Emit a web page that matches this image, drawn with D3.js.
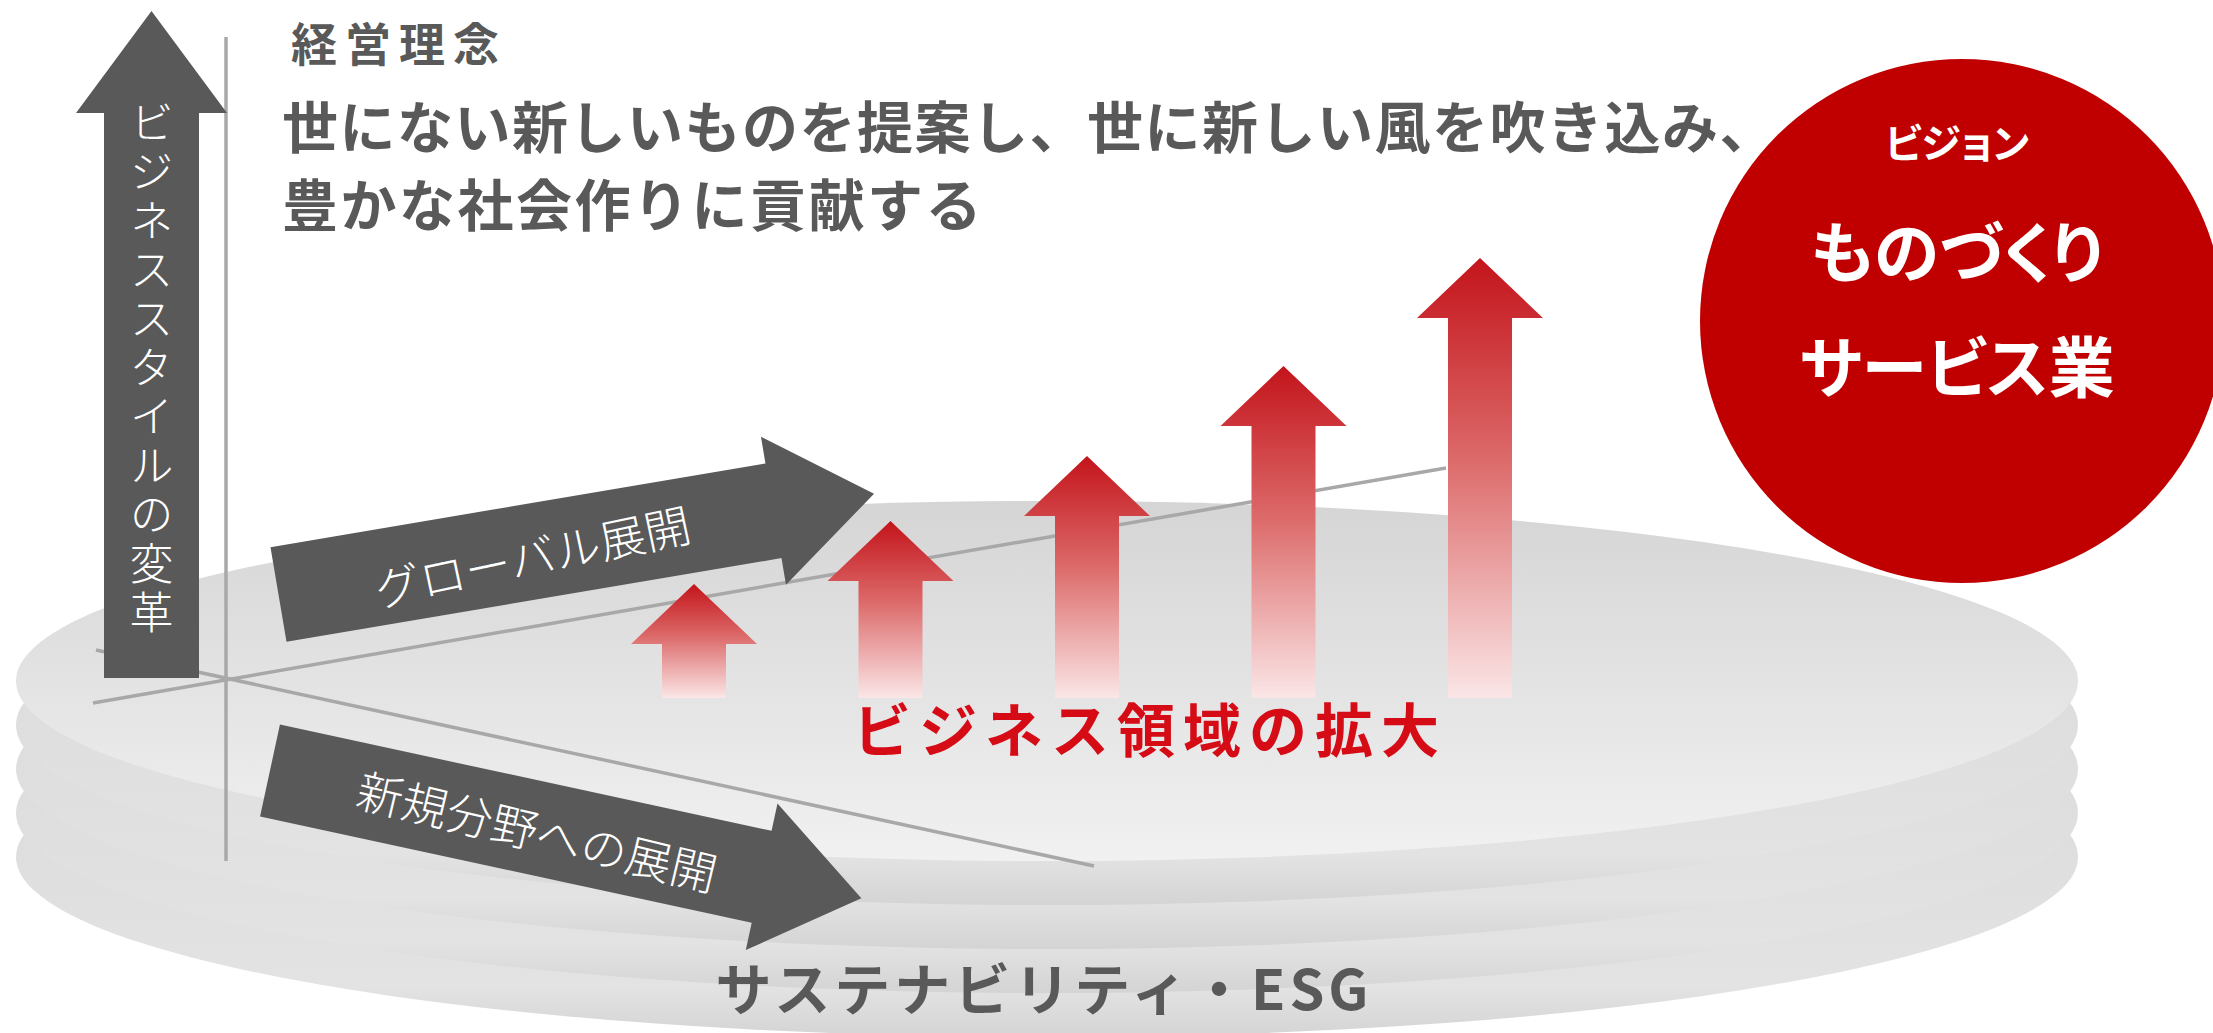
<!DOCTYPE html>
<html>
<head>
<meta charset="utf-8">
<script src="https://cdn.jsdelivr.net/npm/d3@7"></script>
<style>
    body { margin: 0; background: #fff; }
    svg text { font-family: "Noto Sans CJK JP", "Noto Sans", sans-serif; }
</style>
</head>
<body>
<div id="chart"></div>
<script>
// ---- data ----
const philosophyTitle = '経営理念'
const philosophyLines = ['世にない新しいものを提案し、世に新しい風を吹き込み、', '豊かな社会作りに貢献する']
const visionLines = ['ビジョン', 'ものづくり', 'サービス業']
const styleAxisLabel = 'ビジネススタイルの変革'
const globalLabel = 'グローバル展開'
const newFieldLabel = '新規分野への展開'
const growthLabel = 'ビジネス領域の拡大'
const baseLabel = 'サステナビリティ・ESG'
const growthSteps = [1, 2, 3, 4, 5]
const growthValues = [114, 177, 242, 332, 440]
const diskLayers = [4, 3, 2, 1, 0]

const width = 2213
const height = 1033
const grey = '#595959'

const svg = d3.select('#chart').append('svg')
    .attr('width', width)
    .attr('height', height)

const defs = svg.append('defs')

/**
 * Adds a linear gradient to defs
 * @param {string} id - gradient id
 * @param {Array} stops - [offset, color] pairs
 * @param {Array} dir - [x1, y1, x2, y2] in bounding box units
 */
const addGradient = (id, stops, dir = [0, 0, 0, 1]) => {
    const g = defs.append('linearGradient')
        .attr('id', id)
        .attr('x1', dir[0]).attr('y1', dir[1])
        .attr('x2', dir[2]).attr('y2', dir[3])
    stops.forEach(([o, c]) => g.append('stop').attr('offset', o).attr('stop-color', c))
}

addGradient('diskTop', [[0, '#d5d5d5'], [1, '#f1f1f1']])
addGradient('diskLow', [[0, '#d8d8d8'], [0.86, '#e3e3e3'], [1, '#d4d4d4']])
// arrows are drawn along +x then rotated, so the gradient runs tail (x=0) -> tip (x=1)
addGradient('redUp', [[0, '#fbe6e7'], [0.55, '#dc6868'], [1, '#c3141b']], [0, 0, 1, 0])

/**
 * Path of an arrow pointing along +x, tail centred on the origin
 */
const arrowPath = (length, headLen, headHalf, shaftHalf) => {
    const p = d3.path()
    p.moveTo(0, -shaftHalf)
    p.lineTo(length - headLen, -shaftHalf)
    p.lineTo(length - headLen, -headHalf)
    p.lineTo(length, 0)
    p.lineTo(length - headLen, headHalf)
    p.lineTo(length - headLen, shaftHalf)
    p.lineTo(0, shaftHalf)
    p.closePath()
    return p.toString()
}

// ---- stacked disks ----
const disk = { cx: 1047, cy: 681, rx: 1031, ry: 180, step: 44 }
svg.append('g').selectAll('ellipse')
    .data(diskLayers)
    .join('ellipse')
    .attr('cx', disk.cx)
    .attr('cy', d => disk.cy + d * disk.step)
    .attr('rx', disk.rx)
    .attr('ry', disk.ry)
    .attr('fill', d => d === 0 ? 'url(#diskTop)' : 'url(#diskLow)')

// ---- thin axis lines ----
const axisLines = svg.append('g')
    .attr('stroke', '#a8a8a8')
    .attr('stroke-width', 3.5)
axisLines.append('line').attr('x1', 226).attr('y1', 37).attr('x2', 226).attr('y2', 861)
axisLines.append('line').attr('x1', 93).attr('y1', 703).attr('x2', 1446).attr('y2', 468)
axisLines.append('line').attr('x1', 96).attr('y1', 650).attr('x2', 1094).attr('y2', 866)

// ---- vertical arrow : business style ----
const vArrow = svg.append('g').attr('transform', 'translate(151.5,678) rotate(-90)')
vArrow.append('path')
    .attr('d', arrowPath(667, 102, 75.5, 47.5))
    .attr('fill', grey)
svg.append('text')
    .attr('x', 151.5)
    .attr('y', 100)
    .style('writing-mode', 'vertical-rl')
    .attr('font-size', 44)
    .attr('font-weight', 300)
    .attr('letter-spacing', 5)
    .attr('fill', '#fff')
    .text(styleAxisLabel)

// ---- slanted arrows ----
const gArrow = svg.append('g').attr('transform', 'translate(278.5,594.5) rotate(-9.6)')
gArrow.append('path').attr('d', arrowPath(604, 102, 75, 48)).attr('fill', grey)
svg.append('text')
    .attr('transform', 'translate(536,574) rotate(-12)')
    .attr('text-anchor', 'middle')
    .attr('font-size', 46)
    .attr('font-weight', 300)
    .attr('fill', '#fff')
    .text(globalLabel)

const nArrow = svg.append('g').attr('transform', 'translate(270,770.5) rotate(12.2)')
nArrow.append('path').attr('d', arrowPath(605, 102, 75, 47)).attr('fill', grey)
svg.append('text')
    .attr('transform', 'translate(533,849) rotate(13.5)')
    .attr('text-anchor', 'middle')
    .attr('font-size', 46)
    .attr('font-weight', 300)
    .attr('fill', '#fff')
    .text(newFieldLabel)

// ---- growth arrows ----
const x = d3.scaleLinear().domain([1, 5]).range([694, 1480])
const y = d3.scaleLinear().domain([0, 440]).range([698, 258])
svg.append('g').selectAll('path')
    .data(growthSteps.map((s, i) => ({ s, v: growthValues[i] })))
    .join('path')
    .attr('transform', d => `translate(${x(d.s)},${y(0)}) rotate(-90)`)
    .attr('d', d => arrowPath(y(0) - y(d.v), 60, 63, 32))
    .attr('fill', 'url(#redUp)')

svg.append('text')
    .attr('x', 1150)
    .attr('y', 752)
    .attr('text-anchor', 'middle')
    .attr('font-size', 58)
    .attr('font-weight', 700)
    .attr('letter-spacing', 8)
    .attr('fill', '#d50b16')
    .text(growthLabel)

svg.append('text')
    .attr('x', 1044)
    .attr('y', 1010)
    .attr('text-anchor', 'middle')
    .attr('font-size', 56)
    .attr('font-weight', 700)
    .attr('letter-spacing', 4)
    .attr('fill', grey)
    .text(baseLabel)

// ---- philosophy ----
svg.append('text')
    .attr('x', 291)
    .attr('y', 61)
    .attr('font-size', 46)
    .attr('font-weight', 700)
    .attr('letter-spacing', 8)
    .attr('fill', grey)
    .text(philosophyTitle)

svg.append('g').selectAll('text')
    .data(philosophyLines)
    .join('text')
    .attr('x', 282)
    .attr('y', (d, i) => 148 + i * 78)
    .attr('font-size', 56)
    .attr('font-weight', 700)
    .attr('letter-spacing', (d, i) => i === 0 ? 1.5 : 2.5)
    .attr('fill', grey)
    .text(d => d)

// ---- vision circle ----
svg.append('ellipse')
    .attr('cx', 1962)
    .attr('cy', 321)
    .attr('rx', 262)
    .attr('ry', 262)
    .attr('fill', '#c00000')

const visionSizes = [40, 66, 66]
const visionY = [158, 277, 392]
svg.append('g').selectAll('text')
    .data(visionLines)
    .join('text')
    .attr('x', 1957)
    .attr('y', (d, i) => visionY[i])
    .attr('text-anchor', 'middle')
    .attr('font-size', (d, i) => visionSizes[i])
    .attr('font-weight', 700)
    .style('font-feature-settings', '"palt"')
    .attr('fill', '#fff')
    .text(d => d)
</script>
</body>
</html>
